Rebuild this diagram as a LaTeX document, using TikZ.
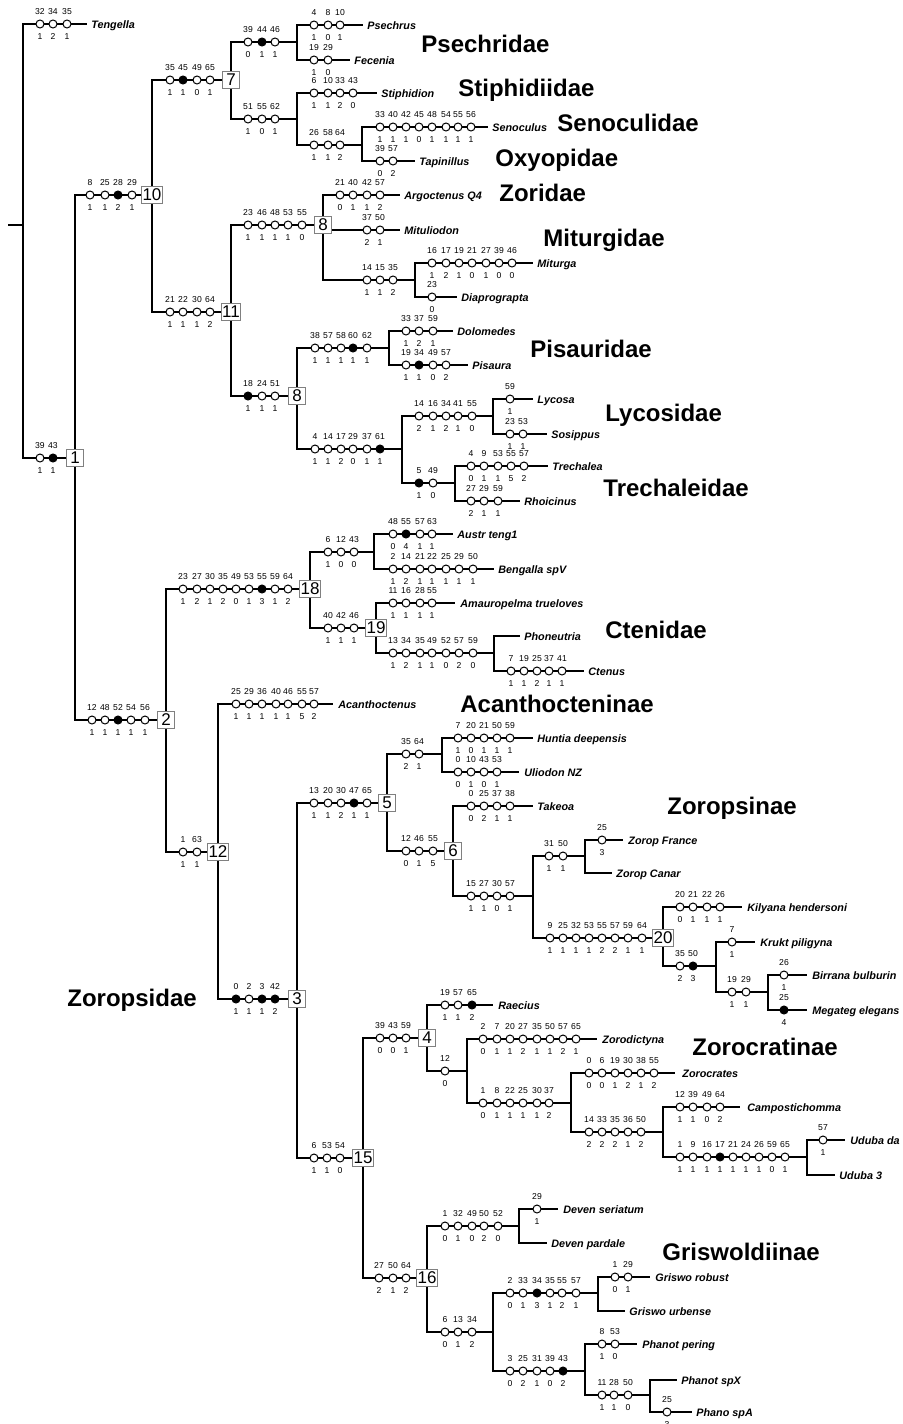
\documentclass[tikz,border=0pt]{standalone}
\usepackage{fontspec}
\setmainfont{Liberation Sans}
\usetikzlibrary{backgrounds}
\colorlet{O}{white}
\colorlet{F}{black}
\tikzset{
  br/.style={line width=1pt, black},
  oc/.style={circle, draw=black, line width=0.5pt, minimum size=4pt, inner sep=0pt},
  num/.style={font=\fontsize{4.3}{5}\selectfont, inner sep=0pt},
  tax/.style={font=\fontsize{5.4}{6}\selectfont\bfseries\itshape, inner sep=0pt, anchor=base west},
  fam/.style={font=\fontsize{12}{14}\selectfont\bfseries, inner sep=0pt, anchor=base west},
  bx/.style={draw=gray, fill=white, line width=0.5pt, minimum size=8.5pt, inner sep=0.4pt, font=\fontsize{8.5}{9}\selectfont}
}
\newcommand\chr[2]{\foreach \px/\tp/\bt/\st in {#2}{%
  \node[oc,fill=\st] (ch-\px-#1) at (\px,#1) {};
  \node[num] (ct-\px-#1) at (\px,#1-12.5) {\tp};
  \node[num] (cb-\px-#1) at (\px,#1+12.5) {\bt};}}
\newcommand\tipn[5]{\coordinate (t#1) at (#2,#3); \node[tax] (#1) at (#4,#3+4) {#5};}
\begin{document}
\begin{tikzpicture}[x=0.5pt,y=-0.5pt]
\useasboundingbox (0,0) rectangle (903,1424);
\begin{pgfonlayer}{background}
\fill[white] (0,0) rectangle (903,1424);
\end{pgfonlayer}
% ---------- internal nodes, boxes, junctions, tips ----------
\coordinate (s0) at (8,225);
\coordinate (J0) at (23,225);
\tipn{Tengella}{87}{24}{91}{Tengella}
\node[bx] (N1) at (75,458) {1};
\node[bx] (N10) at (152,195) {10};
\node[bx] (N7) at (231,80) {7};
\coordinate (Jps) at (297,42);
\tipn{Psechrus}{363}{25}{367}{Psechrus}
\tipn{Fecenia}{350}{60}{354}{Fecenia}
\coordinate (Jst) at (297,119);
\tipn{Stiphidion}{377}{93}{381}{Stiphidion}
\coordinate (Jse) at (362,145);
\tipn{Senoculus}{488}{127}{492}{Senoculus}
\tipn{Tapinillus}{415}{161}{419}{Tapinillus}
\node[bx] (N11) at (231,312) {11};
\node[bx] (N8a) at (323,225) {8};
\tipn{Argoctenus}{400}{195}{404}{Argoctenus Q4}
\tipn{Mituliodon}{400}{230}{404}{Mituliodon}
\coordinate (Jmi) at (415,280);
\tipn{Miturga}{533}{263}{537}{Miturga}
\tipn{Diaprograpta}{457}{297}{461}{Diaprograpta}
\node[bx] (N8b) at (297,396) {8};
\coordinate (Jpi) at (389,348);
\tipn{Dolomedes}{453}{331}{457}{Dolomedes}
\tipn{Pisaura}{468}{365}{472}{Pisaura}
\coordinate (Jly) at (402,449);
\coordinate (Jlc) at (493,416);
\tipn{Lycosa}{533}{399}{537}{Lycosa}
\tipn{Sosippus}{547}{434}{551}{Sosippus}
\coordinate (Jtr) at (455,483);
\tipn{Trechalea}{548}{466}{552}{Trechalea}
\tipn{Rhoicinus}{520}{501}{524}{Rhoicinus}
\node[bx] (N2) at (166,720) {2};
\node[bx] (N18) at (310,589) {18};
\coordinate (Jau) at (374,552);
\tipn{Austr}{453}{534}{457}{Austr teng1}
\tipn{Bengalla}{494}{569}{498}{Bengalla spV}
\node[bx] (N19) at (376,628) {19};
\tipn{Amauropelma}{455}{603}{460}{Amauropelma trueloves}
\coordinate (Jct) at (494,653);
\tipn{Phoneutria}{520}{636}{524}{Phoneutria}
\tipn{Ctenus}{584}{671}{588}{Ctenus}
\node[bx] (N12) at (218,852) {12};
\tipn{Acanthoctenus}{333}{704}{338}{Acanthoctenus}
\node[bx] (N3) at (297,999) {3};
\node[bx] (N5) at (387,803) {5};
\coordinate (Jhu) at (442,754);
\tipn{Huntia}{533}{738}{537}{Huntia deepensis}
\tipn{Uliodon}{519}{772}{524}{Uliodon NZ}
\node[bx] (N6) at (453,851) {6};
\tipn{Takeoa}{533}{806}{537}{Takeoa}
\coordinate (Jzo) at (533,896);
\coordinate (Jzf) at (585,856);
\tipn{ZFrance}{623}{840}{628}{Zorop France}
\tipn{ZCanar}{612}{873}{616}{Zorop Canar}
\node[bx] (N20) at (663,938) {20};
\tipn{Kilyana}{742}{907}{747}{Kilyana hendersoni}
\coordinate (Jkr) at (716,966);
\tipn{Krukt}{755}{942}{760}{Krukt piligyna}
\coordinate (Jbi) at (768,992);
\tipn{Birrana}{807}{975}{812}{Birrana bulburin}
\tipn{Megateg}{807}{1010}{812}{Megateg elegans}
\node[bx] (N15) at (363,1158) {15};
\node[bx] (N4) at (427,1038) {4};
\tipn{Raecius}{493}{1005}{498}{Raecius}
\coordinate (J12) at (467,1071);
\tipn{Zorodictyna}{597}{1039}{602}{Zorodictyna}
\coordinate (Jzc) at (571,1103);
\tipn{Zorocrates}{675}{1073}{682}{Zorocrates}
\coordinate (Jcu) at (663,1132);
\tipn{Campostichomma}{740}{1107}{747}{Campostichomma}
\coordinate (Jud) at (807,1157);
\tipn{UdubaDa}{845}{1140}{850}{Uduba da}
\tipn{Uduba3}{835}{1175}{839}{Uduba 3}
\node[bx] (N16) at (427,1278) {16};
\coordinate (Jde) at (519,1226);
\tipn{DevenS}{558}{1209}{563}{Deven seriatum}
\tipn{DevenP}{547}{1243}{551}{Deven pardale}
\coordinate (Jgp) at (493,1332);
\coordinate (Jgr) at (598,1293);
\tipn{GrisR}{650}{1277}{655}{Griswo robust}
\tipn{GrisU}{625}{1311}{629}{Griswo urbense}
\coordinate (Jph) at (585,1371);
\tipn{PhanP}{637}{1344}{642}{Phanot pering}
\coordinate (Jp2) at (650,1395);
\tipn{PhanX}{677}{1380}{681}{Phanot spX}
\tipn{PhanA}{692}{1412}{696}{Phano spA}
% ---------- connectors ----------
\begin{pgfonlayer}{background}
\draw[br] (s0) -- (J0);
\draw[br] (J0) |- (tTengella);
\draw[br] (J0) |- (N1);
\draw[br] (N1) |- (N10);
\draw[br] (N1) |- (N2);
\draw[br] (N10) |- (N7);
\draw[br] (N10) |- (N11);
\draw[br] (N7) |- (Jps);
\draw[br] (N7) |- (Jst);
\draw[br] (Jps) |- (tPsechrus);
\draw[br] (Jps) |- (tFecenia);
\draw[br] (Jst) |- (tStiphidion);
\draw[br] (Jst) |- (Jse);
\draw[br] (Jse) |- (tSenoculus);
\draw[br] (Jse) |- (tTapinillus);
\draw[br] (N11) |- (N8a);
\draw[br] (N11) |- (N8b);
\draw[br] (N8a) |- (tArgoctenus);
\draw[br] (N8a.east |- tMituliodon) -- (tMituliodon);
\draw[br] (N8a) |- (Jmi);
\draw[br] (Jmi) |- (tMiturga);
\draw[br] (Jmi) |- (tDiaprograpta);
\draw[br] (N8b) |- (Jpi);
\draw[br] (N8b) |- (Jly);
\draw[br] (Jpi) |- (tDolomedes);
\draw[br] (Jpi) |- (tPisaura);
\draw[br] (Jly) |- (Jlc);
\draw[br] (Jly) |- (Jtr);
\draw[br] (Jlc) |- (tLycosa);
\draw[br] (Jlc) |- (tSosippus);
\draw[br] (Jtr) |- (tTrechalea);
\draw[br] (Jtr) |- (tRhoicinus);
\draw[br] (N2) |- (N18);
\draw[br] (N2) |- (N12);
\draw[br] (N18) |- (Jau);
\draw[br] (N18) |- (N19);
\draw[br] (Jau) |- (tAustr);
\draw[br] (Jau) |- (tBengalla);
\draw[br] (N19) |- (tAmauropelma);
\draw[br] (N19) |- (Jct);
\draw[br] (Jct) |- (tPhoneutria);
\draw[br] (Jct) |- (tCtenus);
\draw[br] (N12) |- (tAcanthoctenus);
\draw[br] (N12) |- (N3);
\draw[br] (N3) |- (N5);
\draw[br] (N3) |- (N15);
\draw[br] (N5) |- (Jhu);
\draw[br] (N5) |- (N6);
\draw[br] (Jhu) |- (tHuntia);
\draw[br] (Jhu) |- (tUliodon);
\draw[br] (N6) |- (tTakeoa);
\draw[br] (N6) |- (Jzo);
\draw[br] (Jzo) |- (Jzf);
\draw[br] (Jzo) |- (N20);
\draw[br] (Jzf) |- (tZFrance);
\draw[br] (Jzf) |- (tZCanar);
\draw[br] (N20) |- (tKilyana);
\draw[br] (N20) |- (Jkr);
\draw[br] (Jkr) |- (tKrukt);
\draw[br] (Jkr) |- (Jbi);
\draw[br] (Jbi) |- (tBirrana);
\draw[br] (Jbi) |- (tMegateg);
\draw[br] (N15) |- (N4);
\draw[br] (N15) |- (N16);
\draw[br] (N4) |- (tRaecius);
\draw[br] (N4) |- (J12);
\draw[br] (J12) |- (tZorodictyna);
\draw[br] (J12) |- (Jzc);
\draw[br] (Jzc) |- (tZorocrates);
\draw[br] (Jzc) |- (Jcu);
\draw[br] (Jcu) |- (tCampostichomma);
\draw[br] (Jcu) |- (Jud);
\draw[br] (Jud) |- (tUdubaDa);
\draw[br] (Jud) |- (tUduba3);
\draw[br] (N16) |- (Jde);
\draw[br] (N16) |- (Jgp);
\draw[br] (Jde) |- (tDevenS);
\draw[br] (Jde) |- (tDevenP);
\draw[br] (Jgp) |- (Jgr);
\draw[br] (Jgp) |- (Jph);
\draw[br] (Jgr) |- (tGrisR);
\draw[br] (Jgr) |- (tGrisU);
\draw[br] (Jph) |- (tPhanP);
\draw[br] (Jph) |- (Jp2);
\draw[br] (Jp2) |- (tPhanX);
\draw[br] (Jp2) |- (tPhanA);
\end{pgfonlayer}
% ---------- character states ----------
\chr{24}{40/32/1/O,53/34/2/O,67/35/1/O}
\chr{458}{40/39/1/O,53/43/1/F}
\chr{195}{90/8/1/O,105/25/1/O,118/28/2/F,132/29/1/O}
\chr{80}{170/35/1/O,183/45/1/F,197/49/0/O,210/65/1/O}
\chr{42}{248/39/0/O,262/44/1/F,275/46/1/O}
\chr{25}{314/4/1/O,328/8/0/O,340/10/1/O}
\chr{60}{314/19/1/O,328/29/0/O}
\chr{119}{248/51/1/O,262/55/0/O,275/62/1/O}
\chr{93}{314/6/1/O,328/10/1/O,340/33/2/O,353/43/0/O}
\chr{145}{314/26/1/O,328/58/1/O,340/64/2/O}
\chr{127}{380/33/1/O,393/40/1/O,406/42/1/O,419/45/0/O,432/48/1/O,446/54/1/O,458/55/1/O,471/56/1/O}
\chr{161}{380/39/0/O,393/57/2/O}
\chr{312}{170/21/1/O,183/22/1/O,197/30/1/O,210/64/2/O}
\chr{225}{248/23/1/O,262/46/1/O,275/48/1/O,288/53/1/O,302/55/0/O}
\chr{195}{340/21/0/O,353/40/1/O,367/42/1/O,380/57/2/O}
\chr{230}{367/37/2/O,380/50/1/O}
\chr{280}{367/14/1/O,380/15/1/O,393/35/2/O}
\chr{263}{432/16/1/O,446/17/2/O,459/19/1/O,472/21/0/O,486/27/1/O,499/39/0/O,512/46/0/O}
\chr{297}{432/23/0/O}
\chr{396}{248/18/1/F,262/24/1/O,275/51/1/O}
\chr{348}{315/38/1/O,328/57/1/O,341/58/1/O,353/60/1/F,367/62/1/O}
\chr{331}{406/33/1/O,419/37/2/O,433/59/1/O}
\chr{365}{406/19/1/O,419/34/1/F,433/49/0/O,446/57/2/O}
\chr{449}{315/4/1/O,328/14/1/O,341/17/2/O,353/29/0/O,367/37/1/O,380/61/1/F}
\chr{416}{419/14/2/O,433/16/1/O,446/34/2/O,458/41/1/O,472/55/0/O}
\chr{399}{510/59/1/O}
\chr{434}{510/23/1/O,523/53/1/O}
\chr{483}{419/5/1/F,433/49/0/O}
\chr{466}{471/4/0/O,484/9/1/O,498/53/1/O,511/55/5/O,524/57/2/O}
\chr{501}{471/27/2/O,484/29/1/O,498/59/1/O}
\chr{720}{92/12/1/O,105/48/1/O,118/52/1/F,131/54/1/O,145/56/1/O}
\chr{589}{183/23/1/O,197/27/2/O,210/30/1/O,223/35/2/O,236/49/0/O,249/53/1/O,262/55/3/F,275/59/1/O,288/64/2/O}
\chr{552}{328/6/1/O,341/12/0/O,354/43/0/O}
\chr{534}{393/48/0/O,406/55/4/F,420/57/1/O,432/63/1/O}
\chr{569}{393/2/1/O,406/14/2/O,420/21/1/O,432/22/1/O,446/25/1/O,459/29/1/O,473/50/1/O}
\chr{628}{328/40/1/O,341/42/1/O,354/46/1/O}
\chr{603}{393/11/1/O,406/16/1/O,420/28/1/O,432/55/1/O}
\chr{653}{393/13/1/O,406/34/2/O,420/35/1/O,432/49/1/O,446/52/0/O,459/57/2/O,473/59/0/O}
\chr{671}{511/7/1/O,524/19/1/O,537/25/2/O,549/37/1/O,562/41/1/O}
\chr{852}{183/1/1/O,197/63/1/O}
\chr{704}{236/25/1/O,249/29/1/O,262/36/1/O,276/40/1/O,288/46/1/O,302/55/5/O,314/57/2/O}
\chr{999}{236/0/1/F,249/2/1/O,262/3/1/F,275/42/2/F}
\chr{803}{314/13/1/O,328/20/1/O,341/30/2/O,354/47/1/F,367/65/1/O}
\chr{754}{406/35/2/O,419/64/1/O}
\chr{738}{458/7/1/O,471/20/0/O,484/21/1/O,497/50/1/O,510/59/1/O}
\chr{772}{458/0/0/O,471/10/1/O,484/43/0/O,497/53/1/O}
\chr{851}{406/12/0/O,419/46/1/O,433/55/5/O}
\chr{806}{471/0/0/O,484/25/2/O,497/37/1/O,510/38/1/O}
\chr{896}{471/15/1/O,484/27/1/O,497/30/0/O,510/57/1/O}
\chr{856}{549/31/1/O,563/50/1/O}
\chr{840}{602/25/3/O}
\chr{938}{550/9/1/O,563/25/1/O,576/32/1/O,589/53/1/O,602/55/2/O,615/57/2/O,628/59/1/O,642/64/1/O}
\chr{907}{680/20/0/O,693/21/1/O,707/22/1/O,720/26/1/O}
\chr{966}{680/35/2/O,693/50/3/F}
\chr{942}{732/7/1/O}
\chr{992}{732/19/1/O,746/29/1/O}
\chr{975}{784/26/1/O}
\chr{1010}{784/25/4/F}
\chr{1158}{314/6/1/O,327/53/1/O,340/54/0/O}
\chr{1038}{380/39/0/O,393/43/0/O,406/59/1/O}
\chr{1005}{445/19/1/O,458/57/1/O,472/65/2/F}
\chr{1071}{445/12/0/O}
\chr{1039}{483/2/0/O,497/7/1/O,510/20/1/O,523/27/2/O,537/35/1/O,550/50/1/O,563/57/2/O,576/65/1/O}
\chr{1103}{483/1/0/O,497/8/1/O,510/22/1/O,523/25/1/O,537/30/1/O,549/37/2/O}
\chr{1073}{589/0/0/O,602/6/0/O,615/19/1/O,628/30/2/O,641/38/1/O,654/55/2/O}
\chr{1132}{589/14/2/O,602/33/2/O,615/35/2/O,628/36/1/O,641/50/2/O}
\chr{1107}{680/12/1/O,693/39/1/O,707/49/0/O,720/64/2/O}
\chr{1157}{680/1/1/O,693/9/1/O,707/16/1/O,720/17/1/F,733/21/1/O,746/24/1/O,759/26/1/O,772/59/0/O,785/65/1/O}
\chr{1140}{823/57/1/O}
\chr{1278}{379/27/2/O,393/50/1/O,406/64/2/O}
\chr{1226}{445/1/0/O,458/32/1/O,472/49/0/O,484/50/2/O,498/52/0/O}
\chr{1209}{537/29/1/O}
\chr{1332}{445/6/0/O,458/13/1/O,472/34/2/O}
\chr{1293}{510/2/0/O,523/33/1/O,537/34/3/F,550/35/1/O,562/55/2/O,576/57/1/O}
\chr{1277}{615/1/0/O,628/29/1/O}
\chr{1371}{510/3/0/O,523/25/2/O,537/31/1/O,550/39/0/O,563/43/2/F}
\chr{1344}{602/8/1/O,615/53/0/O}
\chr{1395}{602/11/1/O,614/28/1/O,628/50/0/O}
\chr{1412}{667/25/3/O}
% ---------- family labels ----------
\node[fam] (fPsech) at (421,52) {Psechridae};
\node[fam] (fStiph) at (458,96) {Stiphidiidae};
\node[fam] (fSeno) at (557,131) {Senoculidae};
\node[fam] (fOxy) at (495,166) {Oxyopidae};
\node[fam] (fZori) at (499,201) {Zoridae};
\node[fam] (fMitu) at (543,246) {Miturgidae};
\node[fam] (fPisa) at (530,357) {Pisauridae};
\node[fam] (fLyco) at (605,421) {Lycosidae};
\node[fam] (fTrec) at (603,496) {Trechaleidae};
\node[fam] (fCten) at (605,638) {Ctenidae};
\node[fam] (fAcan) at (460,712) {Acanthocteninae};
\node[fam] (fZoro) at (667,814) {Zoropsinae};
\node[fam] (fZsid) at (67,1006) {Zoropsidae};
\node[fam] (fZcra) at (692,1055) {Zorocratinae};
\node[fam] (fGris) at (662,1260) {Griswoldiinae};
\end{tikzpicture}
\end{document}
